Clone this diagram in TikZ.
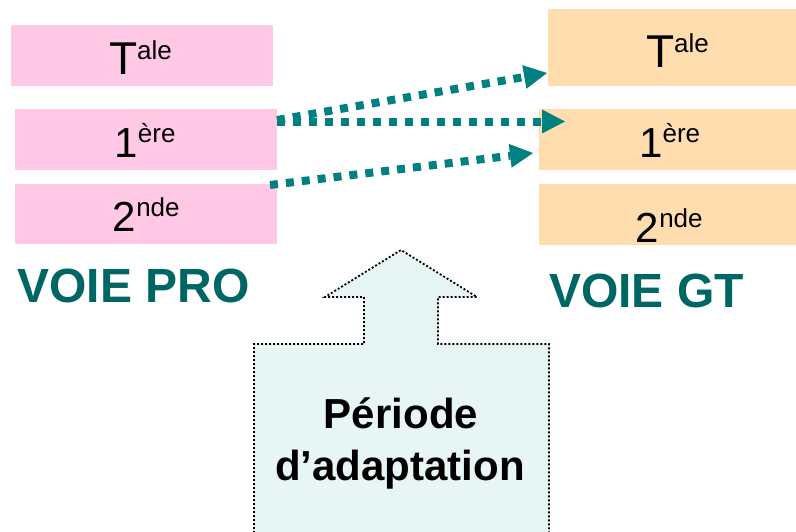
\documentclass[tikz,border=0pt]{standalone}
\usepackage{fontspec}
\setmainfont{Liberation Sans}
\usetikzlibrary{arrows.meta}
\definecolor{pinkbox}{RGB}{255,200,228}
\definecolor{peachbox}{RGB}{255,221,175}
\definecolor{tealarrow}{RGB}{0,128,128}
\definecolor{tealtext}{RGB}{0,102,100}
\definecolor{adaptfill}{RGB}{232,245,245}
\newcommand\gradetxt[3]{{\fontsize{#1}{#1}\selectfont #2}\raisebox{15pt}{\fontsize{26}{26}\selectfont #3}}
\begin{document}
\begin{tikzpicture}[x=1pt,y=-1pt,
  levelbox/.style={rectangle, draw=none, inner sep=0pt, outer sep=0pt},
  pinklevel/.style={levelbox, fill=pinkbox},
  peachlevel/.style={levelbox, fill=peachbox},
  gradelabel/.style={anchor=base, inner sep=0pt, text=black},
  voie/.style={anchor=base, inner sep=0pt, text=tealtext, font=\fontsize{48}{48}\selectfont\bfseries},
  adapttext/.style={anchor=base, inner sep=0pt, text=black, font=\fontsize{42}{42}\selectfont\bfseries},
  passage/.style={draw=tealarrow, line width=8pt, dash pattern=on 8pt off 8pt,
    -{Triangle[length=23pt,width=24pt,line width=0pt]}},
  bigarrow/.style={draw=black, fill=adaptfill, line width=1.8pt, dash pattern=on 2pt off 2pt}
]
\useasboundingbox (0,0) rectangle (796,531);
\clip (0,0) rectangle (796,531);

% left column (voie pro)
\node[pinklevel, minimum width=262pt, minimum height=61pt] (lT) at (142,55.5) {};
\node[pinklevel, minimum width=262pt, minimum height=61pt] (l1) at (146,139.5) {};
\node[pinklevel, minimum width=262pt, minimum height=60pt] (l2) at (146,214) {};
\node[gradelabel] (lTt) at (140.5,74) {\gradetxt{46}{T}{ale}};
\node[gradelabel] (l1t) at (145,157) {\gradetxt{42}{1}{ère}};
\node[gradelabel] (l2t) at (146.3,231) {\gradetxt{42}{2}{nde}};

% right column (voie GT)
\node[peachlevel, minimum width=258pt, minimum height=77pt] (rT) at (677,47.5) {};
\node[peachlevel, minimum width=266pt, minimum height=61pt] (r1) at (672,139.5) {};
\node[peachlevel, minimum width=266pt, minimum height=61pt] (r2) at (672,214.5) {};
\node[gradelabel] (rTt) at (677.5,67) {\gradetxt{46}{T}{ale}};
\node[gradelabel] (r1t) at (669.7,157) {\gradetxt{42}{1}{ère}};
\node[gradelabel] (r2t) at (669.3,242) {\gradetxt{42}{2}{nde}};

% titles
\node[voie] (vpro) at (133.5,302) {VOIE PRO};
\node[voie] (vgt) at (646.5,307) {VOIE GT};

% passage arrows
\coordinate (a1s) at (277,120);
\coordinate (a1e) at (547,73);
\coordinate (a2s) at (277,121.5);
\coordinate (a2e) at (565,121.5);
\coordinate (a3s) at (270,185);
\coordinate (a3e) at (533,153);
\draw[passage] (a1s) -- (a1e);
\draw[passage] (a2s) -- (a2e);
\draw[passage] (a3s) -- (a3e);

% big up arrow
\path[bigarrow] (254,545) -- (254,344) -- (364,344) -- (364,297) -- (325,297) -- (401,250)
  -- (477,297) -- (438,297) -- (438,344) -- (549,344) -- (549,545) -- cycle;
\node[adapttext] (ad1) at (401,428) {Période};
\node[adapttext] (ad2) at (400,480) {d’adaptation};
\end{tikzpicture}
\end{document}
